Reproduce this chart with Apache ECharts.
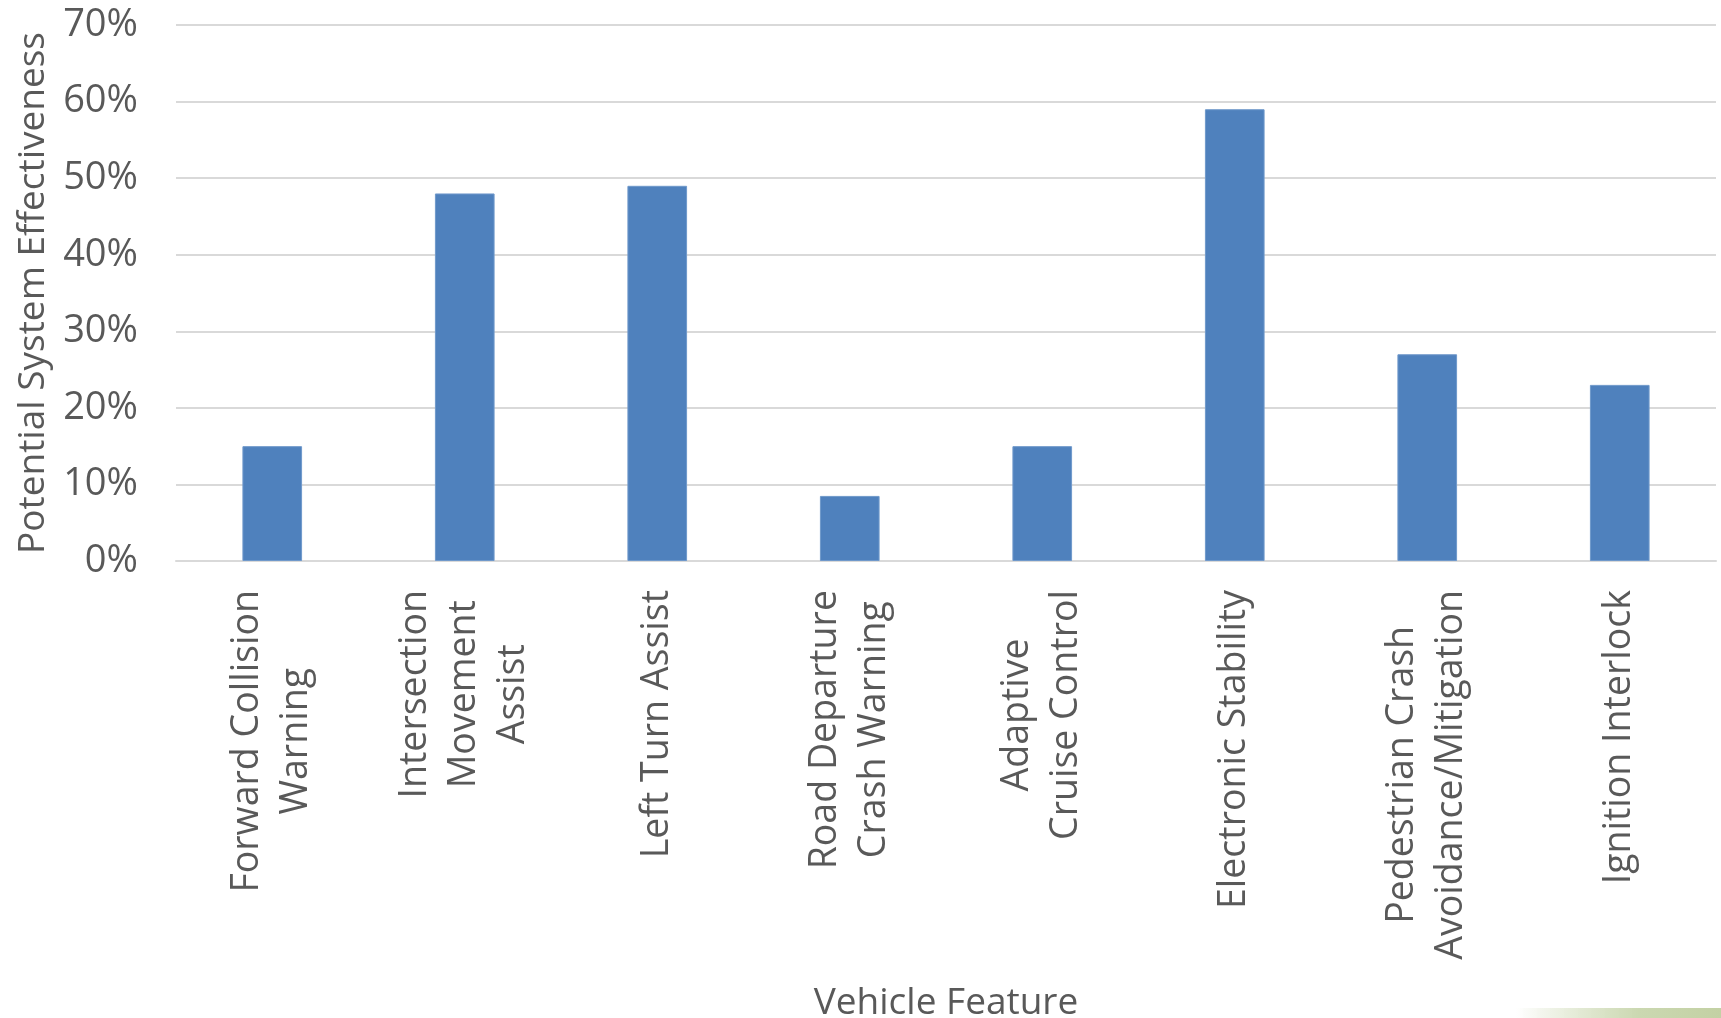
<!DOCTYPE html>
<html>
<head>
<meta charset="utf-8">
<title>Vehicle Feature</title>
<script src="https://cdn.jsdelivr.net/npm/echarts@6/dist/echarts.min.js"></script>
<style>
  html, body { margin: 0; padding: 0; background: #fff; }
  #main { width: 1721px; height: 1018px; }
</style>
</head>
<body>
<div id="main"></div>
<script>
// categories (line breaks as in the reference)
var features = [
    'Forward Collision\nWarning',
    'Intersection\nMovement\nAssist',
    'Left Turn Assist',
    'Road Departure\nCrash Warning',
    'Adaptive\nCruise Control',
    'Electronic Stability',
    'Pedestrian Crash\nAvoidance/Mitigation',
    'Ignition Interlock'
];
// potential system effectiveness, in %
var effectiveness = [15, 48, 49, 8.5, 15, 59, 27, 23];

var textColor = '#595959';
var fontFamily = '"Open Sans", "DejaVu Sans", sans-serif';

var chart = echarts.init(document.getElementById('main'));

chart.setOption({
    animation: false,
    grid: {
        left: 176,
        right: 5,
        top: 25,
        bottom: 457,
        outerBoundsMode: 'none' // keep the plot where it is, the axis title sits near the edge
    },
    xAxis: {
        type: 'category',
        data: features,
        name: 'Vehicle Feature',
        nameLocation: 'middle',
        nameGap: 424,
        nameTextStyle: {
            color: textColor,
            fontSize: 37,
            fontFamily: fontFamily
        },
        axisLine: { lineStyle: { color: '#d9d9d9', width: 2 } },
        axisTick: { show: false },
        axisLabel: {
            rotate: 90,
            margin: 29,
            interval: 0,
            // each line centred inside the label block
            formatter: function (v) {
                return v.split('\n').map(function (s) {
                    return '{c|' + s + '}';
                }).join('\n');
            },
            rich: {
                c: {
                    align: 'center',
                    color: textColor,
                    fontSize: 37.5,
                    lineHeight: 49,
                    fontFamily: fontFamily
                }
            }
        }
    },
    yAxis: {
        type: 'value',
        min: 0,
        max: 70,
        interval: 10,
        name: 'Potential System Effectiveness',
        nameLocation: 'middle',
        nameGap: 124,
        nameTextStyle: {
            color: textColor,
            fontSize: 37,
            fontFamily: fontFamily
        },
        axisLine: { show: false },
        axisTick: { show: false },
        axisLabel: {
            formatter: '{value}%',
            margin: 38,
            color: textColor,
            fontSize: 38,
            fontFamily: fontFamily
        },
        splitLine: { lineStyle: { color: '#d9d9d9', width: 2 } }
    },
    series: [{
        type: 'bar',
        data: effectiveness,
        barWidth: '31%',
        itemStyle: {
            color: '#4f81bd',
            borderColor: '#7099cb',
            borderWidth: 1
        }
    }],
    graphic: [{
        // faded green strip at the bottom right corner
        type: 'rect',
        right: 0,
        bottom: 0,
        shape: { width: 205, height: 10 },
        style: {
            fill: new echarts.graphic.LinearGradient(0, 0, 1, 0, [
                { offset: 0, color: 'rgba(197,211,168,0)' },
                { offset: 0.6, color: '#cbd8b1' },
                { offset: 1, color: '#c3d1a4' }
            ])
        }
    }]
});
</script>
</body>
</html>
